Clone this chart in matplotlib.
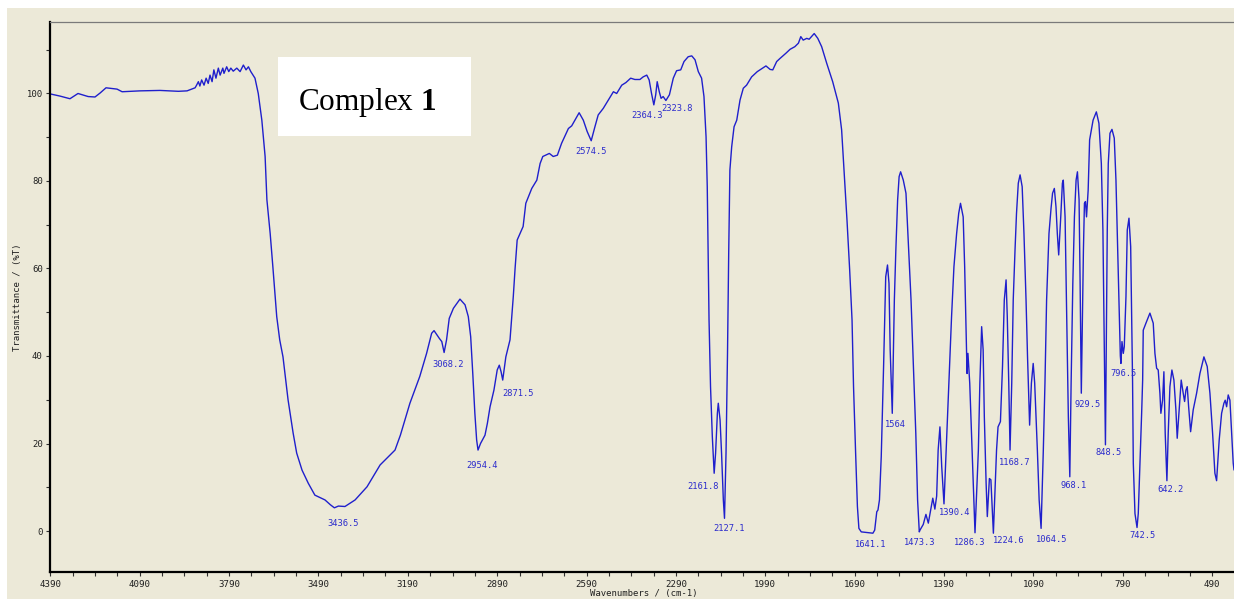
import numpy as np
import matplotlib
matplotlib.use("Agg")
import matplotlib.pyplot as plt
from matplotlib.patches import Rectangle
from matplotlib.ticker import FixedLocator

plt.rcParams['mathtext.fontset'] = 'custom'
plt.rcParams['mathtext.rm'] = 'Liberation Serif'
plt.rcParams['mathtext.bf'] = 'Liberation Serif:bold'

# ---------------- data ----------------
wavenumber = [
    4390, 4357, 4324, 4297, 4263, 4240, 4223, 4203, 4166, 4149, 4089, 4022, 3960, 3931, 3904,
    3899, 3893, 3888, 3882, 3874, 3867, 3860, 3854, 3847, 3841, 3834, 3826, 3820, 3811, 3807,
    3798, 3791, 3784, 3776, 3764, 3753, 3742, 3733, 3725, 3717, 3703, 3692, 3680, 3669, 3663,
    3652, 3643, 3630, 3620, 3609, 3592, 3575, 3563, 3545, 3524, 3502, 3468, 3450, 3436.5, 3423,
    3401, 3367, 3327, 3283, 3233,
    3215, 3183, 3150, 3127, 3110, 3102, 3084, 3076, 3068.2, 3060, 3051, 3037, 3015, 2998, 2987,
    2979, 2972, 2965, 2959, 2954.4, 2946, 2931, 2923, 2914, 2901, 2890, 2883, 2877, 2871.5, 2861,
    2847, 2836, 2830, 2823, 2803, 2794, 2774, 2757, 2746, 2737, 2715, 2702, 2688, 2674, 2651,
    2640, 2629, 2615, 2601, 2588, 2574.5, 2562, 2551, 2534, 2517, 2500, 2489, 2472, 2458, 2442,
    2428, 2411, 2400, 2388, 2380, 2372, 2364.3, 2358, 2353, 2346, 2340, 2333, 2323.8, 2312, 2299,
    2288, 2274, 2263, 2249, 2237, 2226, 2215, 2204, 2196, 2189, 2185, 2182, 2179, 2174, 2168,
    2161.8, 2157, 2151, 2148, 2142, 2137, 2131, 2127.1, 2122, 2117, 2113, 2109, 2103, 2095, 2086,
    2075, 2064, 2053, 2036, 2017, 1999, 1988, 1974, 1965, 1952, 1941, 1921, 1907, 1891, 1879,
    1871, 1863, 1851, 1843, 1835, 1826, 1814, 1801, 1784, 1764, 1745, 1734, 1726, 1716, 1707,
    1699, 1694, 1687, 1681, 1676, 1668, 1641.1, 1629, 1623, 1616, 1612, 1607, 1601, 1596, 1593,
    1589, 1586, 1580, 1575, 1571, 1564, 1557, 1552, 1546, 1541, 1536, 1527, 1518, 1510, 1501,
    1493, 1485, 1479, 1473.3, 1471, 1460, 1451, 1443, 1428, 1421, 1415, 1410, 1404, 1398, 1390.4,
    1381, 1374, 1365, 1357, 1348, 1341, 1335, 1326, 1321, 1315, 1313, 1310, 1304, 1296, 1286.3,
    1275, 1270, 1264, 1259, 1255, 1249, 1245, 1238, 1233, 1224.6, 1214, 1209, 1201, 1194, 1188,
    1182, 1178, 1173, 1168.7, 1163, 1158, 1152, 1147, 1141, 1135, 1128, 1122, 1115, 1110, 1103,
    1097, 1091, 1086, 1077, 1071, 1064.5, 1057, 1051.5, 1046, 1038, 1031, 1026, 1020, 1014.5, 1010,
    1005.4, 998.5, 993, 990, 984, 978.5, 973, 968.1, 963.7, 958, 952.6, 947, 942.5, 937, 933.5,
    929.5, 925.7, 922.4, 919, 915.6, 912, 906.5, 901.6, 890, 879, 870.4, 862.3, 857, 853.6, 851.2,
    848.5, 846, 842.4, 839, 833.3, 826.6, 818.9, 813.2, 807.5, 802.1, 798.5, 796.5, 793, 788.6, 785.3,
    779.6, 775.2, 769.5, 763.8, 760.5, 757.5, 755, 749.4, 742.5, 738.3, 732.6, 727, 723.6, 721.6, 712.6,
    699.2, 688.1, 682.4, 676.7, 671.4, 665.7, 662.4, 656.7, 652.3, 647.9, 642.2, 637.8, 632.1, 625.4, 618.7,
    612.0, 607.6, 600.9, 594.2, 587.5, 582.8, 578.4, 574.0, 569.3, 562.6, 553.9, 542.5, 531.4, 518.0, 506.9,
    497.8, 488.8, 481.1, 475.4, 466.7, 458.6, 450.9, 446.5, 441.8, 436.4, 430.7, 425.0, 419.6, 417,
]
transmittance = [
    99.9, 99.4, 98.8, 100.0, 99.3, 99.2, 100.1, 101.3, 101.0, 100.4, 100.6, 100.7, 100.5, 100.6, 101.3,
    101.9, 102.7, 101.7, 103.1, 101.9, 103.5, 102.3, 104.2, 102.7, 105.4, 103.5, 105.8, 104.2, 105.8, 104.6,
    106.1, 105.0, 105.8, 105.1, 105.8, 105.0, 106.5, 105.4, 106.1, 105.0, 103.5, 100.0, 93.9, 85.6, 75.7,
    68.0, 60.4, 49.0, 43.7, 39.8, 30.0, 22.4, 17.8, 13.9, 10.9, 8.2, 7.1, 6.0, 5.3, 5.7,
    5.6, 7.1, 10.1, 15.1, 18.5,
    21.9, 29.2, 35.3, 40.6, 45.2, 45.8, 44.0, 43.3, 40.8, 43.7, 48.6, 50.9, 53.0, 51.7, 49.0,
    44.4, 36.0, 26.9, 20.8, 18.5, 20.0, 21.9, 24.6, 28.4, 32.2, 36.8, 37.9, 36.4, 34.5, 39.8,
    43.7, 53.6, 60.0, 66.5, 69.6, 74.9, 78.3, 80.2, 84.0, 85.6, 86.3, 85.6, 85.9, 88.6, 92.0,
    92.6, 93.9, 95.6, 93.9, 91.3, 89.2, 92.4, 95.1, 96.6, 98.5, 100.4, 100.0, 101.9, 102.5, 103.5,
    103.2, 103.2, 103.8, 104.2, 103.1, 100.0, 97.4, 99.7, 102.7, 100.4, 98.9, 99.3, 98.4, 99.7, 103.5,
    105.2, 105.4, 107.3, 108.4, 108.6, 107.7, 105.0, 103.5, 99.3, 90.1, 78.7, 63.5, 48.2, 33.0, 21.6,
    13.2, 17.8, 26.9, 29.2, 25.4, 17.8, 7.1, 2.9, 17.8, 40.6, 63.5, 82.5, 87.8, 92.4, 93.9,
    98.5, 101.2, 101.9, 103.8, 105.0, 105.8, 106.3, 105.5, 105.4, 107.3, 108.0, 109.2, 110.1, 110.7, 111.5,
    113.0, 112.2, 112.6, 112.4, 113.0, 113.7, 112.6, 110.7, 106.9, 102.7, 97.8, 91.7, 82.5, 71.1, 59.7,
    48.2, 33.0, 17.8, 5.6, 0.6, -0.2, -0.4, -0.5, 0.2, 4.4, 4.8, 7.1, 17.0, 30.0, 38.0,
    50.0, 58.1, 60.8, 56.6, 41.4, 26.9, 52.8, 64.2, 75.7, 81.0, 82.1, 80.2, 77.2, 65.8, 52.8,
    37.6, 22.3, 7.1, -0.2, 0.2, 1.5, 3.8, 1.8, 7.5, 5.0, 8.0, 18.5, 23.8, 14.7, 6.2,
    22.3, 33.8, 49.0, 60.4, 68.0, 72.6, 74.9, 71.8, 60.4, 41.4, 36.0, 40.6, 33.8, 18.5, -0.4,
    18.5, 33.8, 46.7, 41.4, 26.1, 10.9, 3.3, 12.0, 11.7, -0.5, 18.5, 23.8, 25.0, 37.6, 52.8,
    57.4, 49.0, 33.8, 18.5, 33.8, 52.8, 64.2, 72.6, 79.5, 81.4, 78.7, 68.0, 52.8, 39.8, 24.2,
    33.8, 38.3, 33.8, 18.5, 7.1, 0.6, 18.5, 33.8, 52.8, 68.0, 73.8, 77.2, 78.3, 74.1, 68.0,
    63.1, 71.8, 79.5, 80.2, 71.8, 49.0, 26.1, 12.4, 33.8, 56.6, 71.8, 80.2, 82.1, 75.7, 56.6,
    31.5, 49.0, 64.2, 74.9, 75.3, 71.8, 77.9, 89.4, 93.9, 95.8, 93.2, 84.0, 68.8, 49.8, 34.5,
    19.7, 40.0, 68.8, 84.0, 90.9, 91.8, 89.8, 80.2, 65.0, 49.8, 40.0, 38.3, 43.3, 40.6, 42.1,
    53.6, 68.8, 71.5, 65.0, 49.8, 34.5, 15.5, 4.0, 0.8, 4.0, 15.5, 26.9, 34.5, 45.9, 47.5,
    49.8, 47.5, 40.6, 37.2, 36.8, 31.5, 26.9, 29.9, 36.4, 22.3, 11.5, 22.3, 33.0, 36.8, 34.5,
    27.7, 21.2, 27.7, 34.5, 31.5, 29.6, 32.2, 33.0, 28.4, 22.7, 27.7, 31.5, 36.0, 39.8, 37.6,
    31.5, 22.3, 13.2, 11.5, 20.8, 26.9, 29.2, 29.9, 28.4, 31.1, 29.9, 22.3, 15.5, 14.0,
]

peak_labels = ["3436.5", "3068.2", "2954.4", "2871.5", "2574.5", "2364.3", "2323.8",
               "2161.8", "2127.1", "1641.1", "1564", "1473.3", "1390.4", "1286.3",
               "1224.6", "1168.7", "1064.5", "968.1", "929.5", "848.5", "796.5",
               "742.5", "642.2"]
peak_wn = [3436.5, 3068.2, 2954.4, 2871.5, 2574.5, 2364.3, 2323.8, 2161.8, 2127.1,
           1641.1, 1564, 1473.3, 1390.4, 1286.3, 1224.6, 1168.7, 1064.5, 968.1,
           929.5, 848.5, 796.5, 742.5, 642.2]
peak_t = [5.3, 40.8, 18.5, 34.5, 89.2, 97.4, 98.4, 13.2, 2.9, -0.4, 26.9, -0.2, 6.2,
          -0.4, -0.5, 18.5, 0.6, 12.4, 31.5, 19.7, 38.3, 0.8, 11.5]

x_ticks = [4390, 4090, 3790, 3490, 3190, 2890, 2590, 2290, 1990, 1690, 1390, 1090, 790, 490]
y_ticks = [0, 20, 40, 60, 80, 100]

# ---------------- layout / style ----------------
# label offsets relative to each peak, in pixels (dx right, dy up)
label_offsets = [(9, -16), (4, -12), (4, -15), (15, -13), (0, -11), (-7, -11), (11, -8),
                 (-11, -13), (5, -10), (1, -12), (3, -11), (0, -11), (11, -9), (-5, -10),
                 (15, -7), (5, -12), (11, -11), (4, -9), (6, -11), (3, -8), (3, -10),
                 (5, -8), (4, -9)]

W, H = 1234, 599
BEIGE = '#ECE9D8'
LINE = '#1f1fcc'
LABEL = '#2b2bcc'

fig = plt.figure(figsize=(W / 100, H / 100), dpi=100, facecolor='white')
fig.patches.append(Rectangle((7 / W, 0), 1, (H - 8) / H, transform=fig.transFigure,
                             facecolor=BEIGE, edgecolor='none', zorder=-10))

ax = fig.add_axes([50.3 / W, 27 / H, 1 - 50.3 / W, 550 / H])
ax.set_facecolor(BEIGE)
ax.plot(wavenumber, transmittance, color=LINE, lw=1.0, solid_joinstyle='round')
ax.set_xlim(4390, 417)
ax.set_ylim(-9.37, 116.34)

mono = 'DejaVu Sans Mono'
ax.xaxis.set_major_locator(FixedLocator(x_ticks))
ax.xaxis.set_minor_locator(FixedLocator(np.arange(415, 4391, 75)))
ax.yaxis.set_major_locator(FixedLocator(y_ticks))
ax.yaxis.set_minor_locator(FixedLocator(np.arange(10, 111, 20)))
ax.set_xticklabels([str(v) for v in x_ticks], family=mono, fontsize=6.6, color='#202020')
ax.set_yticklabels([str(v) for v in y_ticks], family=mono, fontsize=6.4, color='#202020')
ax.tick_params(axis='both', which='both', direction='out', length=3, width=0.8,
               color='#303030', pad=2.5)

for side in ['right']:
    ax.spines[side].set_visible(False)
ax.spines['left'].set_linewidth(1.6)
ax.spines['bottom'].set_linewidth(1.6)
ax.spines['left'].set_color('black')
ax.spines['bottom'].set_color('black')
ax.spines['top'].set_linewidth(0.9)
ax.spines['top'].set_color('#7a7a7a')

for lab, wn, t, (dx, dy) in zip(peak_labels, peak_wn, peak_t, label_offsets):
    ax.annotate(lab, xy=(wn, t), xytext=(dx, dy), textcoords='offset pixels',
                ha='center', va='center', family=mono, fontsize=6.3, color=LABEL)

fig.text(643.5 / W, (H - 593.3) / H, 'Wavenumbers / (cm-1)', family=mono, fontsize=6.5,
         color='#202020', ha='center', va='center')
fig.text(17.5 / W, (H - 297) / H, 'Transmittance / (%T)', family=mono, fontsize=6.5,
         color='#202020', ha='center', va='center', rotation=90)

# "Complex 1" box
fig.patches.append(Rectangle((278 / W, (H - 136) / H), 193 / W, 79 / H, transform=fig.transFigure,
                             facecolor='white', edgecolor='none', zorder=5))
fig.text(297.7 / W, (H - 110) / H, r'Complex $\mathbf{1}$', family='Liberation Serif',
         fontsize=22.5, color='black', ha='left', va='baseline', zorder=6)

fig.savefig('out.png', dpi=100, facecolor='white')
